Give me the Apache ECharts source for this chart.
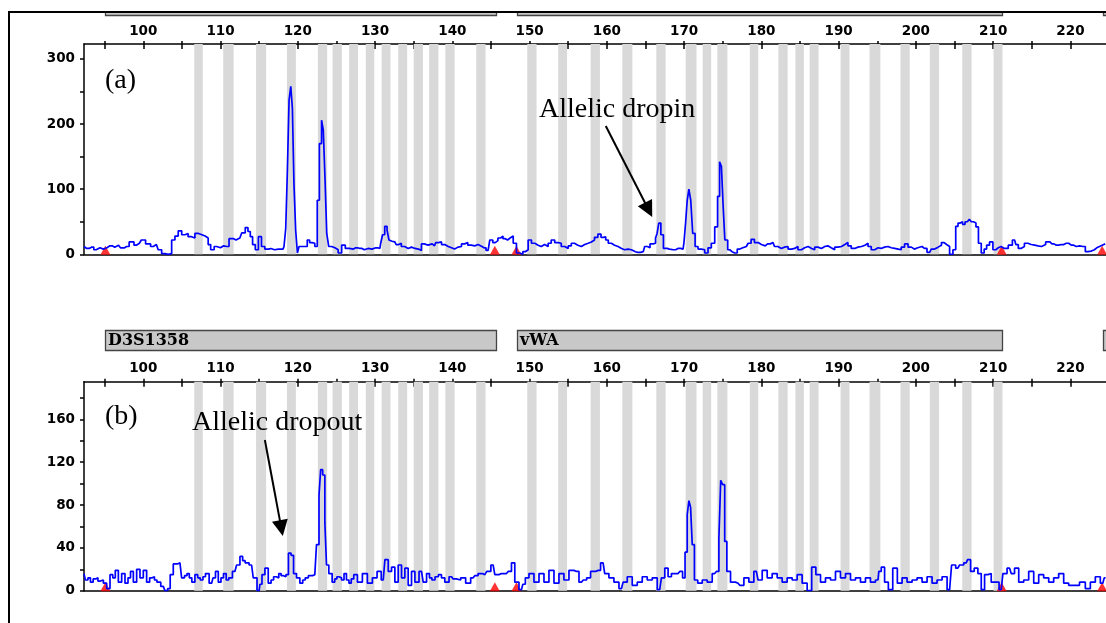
<!DOCTYPE html>
<html><head><meta charset="utf-8">
<script src="https://cdn.jsdelivr.net/npm/echarts@6/dist/echarts.min.js"></script>
<style>html,body{margin:0;padding:0;background:#fff}#c{width:1106px;height:623px}</style>
</head><body><div id="c"></div>
<script>
// ---- axis ticks / labels (base pairs and RFU) ----
const xTickValues = [95,100,105,110,115,120,125,130,135,140,145,150,155,160,165,170,175,180,185,190,195,200,205,210,215,220];
const xLabelValues = [100,110,120,130,140,150,160,170,180,190,200,210,220];
const yTicksA = [0,50,100,150,200,250,300];
const yLabelsA = [0,100,200,300];
const yTicksB = [0,20,40,60,80,100,120,140,160,180];
const yLabelsB = [0,40,80,120,160];

// ---- allele bins (bp ranges) ----
const binRanges = [[106.6,107.7],[110.35,111.7],[114.6,115.9],[118.6,119.75],[122.6,123.8],[124.5,125.7],[126.65,127.8],[128.8,129.9],[130.85,132.0],[133.0,134.15],[135.0,136.2],[137.0,138.2],[139.1,140.3],[143.1,144.3],[149.7,150.9],[153.7,154.85],[157.9,159.1],[162.0,163.3],[166.4,167.6],[170.2,171.6],[172.4,173.5],[174.3,175.6],[178.5,179.6],[182.2,183.4],[184.4,185.5],[186.25,187.4],[190.25,191.4],[194.0,195.4],[198.0,199.2],[201.8,203.0],[206.0,207.2],[210.05,211.2]];

// ---- size standard markers (bp) ----
const markerBp = [95.1,145.5,148.3,211.1,224.1];

// ---- loci ----
const lociNames = ['D3S1358','vWA',''];
const lociStart = [95.04,148.35,224.15];
const lociEnd = [145.63,211.1,232];

// ---- panel (a) trace [bp, RFU] ----
const traceA = [[92.33,12],[92.68,9],[93.3,11],[93.9,7],[94.4,10],[94.83,8],[95.3,10],[95.69,13],[96.3,11],[96.8,14],[97.3,10],[97.85,12],[98.5,19],[99.1,14],[99.5,17],[100,22],[100.6,16],[101.3,12],[101.7,15],[102.16,7],[102.6,1],[103.0,0],[103.45,1],[103.9,22],[104.3,28],[104.75,36],[105.2,30],[105.6,32],[106.0,27],[106.47,25],[106.9,32],[107.4,30],[107.8,28],[108.2,25],[108.6,15],[108.85,7],[109.5,12],[110.0,10],[110.4,13],[110.8,12],[111.4,24],[112.0,22],[112.5,25],[113.0,33],[113.4,41],[113.7,35],[114.0,27],[114.3,15],[114.7,7],[115.1,27],[115.5,12],[115.96,8],[116.5,9],[117.0,7],[117.5,8],[118.1,8],[118.33,12],[118.55,40],[118.76,130],[118.98,237],[119.2,258],[119.4,224],[119.6,109],[119.85,37],[120.05,2],[120.27,12],[120.7,12],[121.1,12],[121.35,22],[121.7,18],[122.0,17],[122.4,12],[122.64,83],[122.95,170],[123.2,206],[123.4,191],[123.64,117],[123.85,32],[124.15,12],[124.6,10],[125.0,7],[125.45,2],[125.9,14],
[126.4,9],[126.9,8],[127.5,10],[128.03,9],[128.6,7],[129.1,9],[129.6,8],[130.1,10],[130.62,9],[130.84,17],[131.1,30],[131.4,43],[131.7,37],[131.9,22],[132.2,20],[132.56,19],[132.9,15],[133.2,17],[133.6,12],[134.07,9],[134.5,11],[134.93,9],[135.4,8],[135.8,6],[136.2,16],[136.6,14],[137.1,16],[137.7,13],[138.0,18],[138.4,19],[138.8,15],[139.25,12],[139.7,10],[140.1,8],[140.5,11],[140.97,12],[141.4,16],[141.8,18],[142.2,14],[142.7,13],[143.1,15],[143.56,12],[144.1,10],[144.63,6],[145.07,22],[145.4,18],[145.7,21],[146.1,25],[146.4,28],[146.7,24],[147.0,22],[147.3,25],[147.66,28],[148.1,17],[148.5,2],[148.95,0],[149.3,4],[149.6,7],[150.03,22],[150.45,17],[150.9,14],[151.3,12],[151.7,15],[152.2,12],[152.6,17],[153.0,22],[153.5,18],[153.9,17],[154.3,12],[154.8,9],[155.2,13],[155.6,17],[156.0,14],[156.5,12],[156.9,15],[157.36,17],[157.8,19],[158.2,22],[158.6,26],[159.08,31],[159.4,26],[159.7,27],[160.0,22],[160.37,17],[160.8,14],[161.2,12],[161.7,9],[162.1,7],[162.5,8],[162.96,7],
[163.4,4],[164.0,3],[164.7,4],[165.1,12],[165.4,10],[165.77,16],[166.2,17],[166.4,25],[166.6,32],[166.84,48],[167.14,30],[167.5,9],[168.1,8],[168.6,7],[169.2,9],[169.86,8],[170.08,17],[170.3,48],[170.5,83],[170.73,100],[170.98,83],[171.24,32],[171.6,12],[172.0,8],[172.45,7],[172.88,2],[173.3,10],[173.74,17],[174.18,42],[174.48,89],[174.7,142],[174.95,135],[175.16,73],[175.38,22],[175.9,7],[176.2,4],[176.55,2],[177.2,8],[177.6,10],[178.06,12],[178.5,17],[178.84,23],[179.35,18],[179.8,15],[180.2,13],[180.8,16],[181.5,18],[181.9,12],[182.37,9],[182.8,11],[183.2,12],[183.7,8],[184.1,9],[184.5,12],[184.96,7],[185.4,10],[185.8,12],[186.3,9],[186.7,7],[187.1,11],[187.55,9],[188.0,12],[188.4,13],[188.8,10],[189.27,7],[189.7,11],[190.13,12],[190.6,15],[191.0,18],[191.4,13],[191.85,9],[192.3,11],[192.7,12],[193.2,14],[193.6,17],[194.0,12],[194.44,7],[194.9,10],[195.3,9],[195.7,11],[196.17,12],[196.6,10],[197.0,9],[197.5,8],[197.9,7],[198.3,11],[198.76,16],
[199.2,11],[199.6,8],[200.0,10],[200.48,12],[201.1,9],[201.77,3],[202.2,8],[202.64,11],[203.1,14],[203.5,18],[203.8,15],[204.14,12],[204.58,0],[205.0,7],[205.3,43],[205.6,48],[205.87,50],[206.2,46],[206.52,50],[206.8,52],[207.03,54],[207.3,50],[207.6,48],[207.94,42],[208.24,17],[208.67,2],[209.0,8],[209.3,14],[209.75,19],[210.18,7],[210.5,10],[210.83,12],[211.2,9],[211.7,9],[212.2,14],[212.77,22],[213.1,15],[213.4,9],[213.8,12],[214.28,17],[214.7,15],[215.14,14],[215.6,13],[216.0,12],[216.5,15],[217.08,19],[217.6,16],[218.16,14],[218.8,15],[219.46,17],[220.1,14],[220.75,12],[221.2,13],[221.6,12],[222.25,4],[222.7,5],[223.1,7],[223.4,10],[223.76,12],[224.1,14],[224.5,16]];

// ---- panel (b) trace [bp, RFU] ----
const traceB = [[92.33,16],[92.68,10],[93.0,12],[93.33,8],[93.7,11],[93.97,12],[94.3,9],[94.62,10],[95.05,7],[95.48,2],[95.91,15],[96.2,12],[96.56,19],[96.99,8],[97.42,16],[97.85,7],[98.2,12],[98.5,18],[98.93,8],[99.36,20],[99.79,12],[100.22,19],[100.65,8],[101.0,12],[101.3,13],[101.6,10],[101.94,8],[102.59,4],[103.02,0],[103.3,2],[103.67,15],[104.1,25],[104.75,26],[105.18,12],[105.5,14],[105.82,16],[106.1,12],[106.47,8],[106.9,15],[107.2,12],[107.55,10],[107.9,13],[108.2,16],[108.85,7],[109.2,12],[109.5,18],[109.92,8],[110.2,12],[110.57,16],[110.9,10],[111.22,12],[111.86,18],[112.3,24],[112.73,32],[113.0,28],[113.37,26],[114.02,24],[114.45,12],[115.0,0],[115.2,6],[115.53,15],[115.96,21],[116.39,7],[116.7,10],[117.04,13],[117.4,12],[117.68,16],[118.0,14],[118.33,13],[118.6,15],[118.98,35],[119.28,33],[119.62,16],[120.05,12],[120.48,7],[120.8,10],[121.13,12],[121.6,14],[122.2,15],[122.64,43],[122.85,89],[123.07,113],[123.37,108],[123.63,64],[123.8,24],[124.23,16],[124.66,8],[124.9,11],[125.22,13],[125.45,12],[125.87,10],
[126.1,16],[126.5,10],[126.74,7],[127.1,11],[127.39,15],[128.04,8],[128.68,16],[129.33,7],[129.98,12],[130.54,18],[131.06,10],[131.49,29],[131.92,18],[132.35,22],[132.78,8],[133.21,24],[133.64,12],[134.07,21],[134.5,5],[134.94,18],[135.37,8],[136.01,18],[136.45,8],[136.88,16],[137.2,12],[137.52,10],[138.0,13],[138.39,15],[138.8,12],[139.25,8],[139.9,13],[140.3,11],[140.76,10],[141.4,12],[142.05,7],[142.7,12],[143.1,14],[143.56,16],[144.21,15],[144.7,18],[145.28,24],[145.72,15],[146.36,16],[147.01,16],[147.44,18],[147.87,26],[148.3,8],[148.95,1],[149.3,6],[149.6,12],[150.24,16],[150.89,8],[151.54,16],[152.18,8],[152.83,19],[153.48,7],[154.12,16],[154.77,10],[155.42,19],[156.07,18],[156.71,8],[157.2,10],[157.57,12],[158.22,18],[158.87,19],[159.51,26],[159.94,16],[160.59,12],[161.24,8],[161.89,2],
[162.32,8],[162.96,13],[163.61,5],[164.26,8],[164.9,13],[165.55,10],[166.2,12],[166.84,1],[167.28,12],[167.71,21],[168.14,13],[168.57,16],[169.22,16],[169.65,18],[169.95,12],[170.29,36],[170.51,71],[170.73,84],[170.94,78],[171.16,43],[171.5,10],[172.02,7],[172.67,10],[173.31,8],[173.96,16],[174.39,18],[174.61,49],[174.86,103],[175.12,99],[175.38,46],[175.68,18],[176.33,8],[176.98,7],[177.41,5],[178.06,12],[178.7,8],[179.35,18],[179.78,10],[180.43,19],[181.07,12],[181.72,16],[182.37,12],[183.01,8],[183.66,12],[184.31,10],[184.95,15],[185.6,7],[186.25,0],[186.77,22],[187.33,15],[187.97,8],[188.62,12],[189.27,10],[189.91,18],[190.56,12],[191.21,16],[191.85,10],[192.5,12],[193.15,8],[193.79,12],[194.44,8],[195.09,10],
[195.3,18],[195.73,22],[196.16,8],[196.7,1],[197.3,21],[197.89,7],[198.53,12],[199.18,8],[199.83,10],[200.47,12],[201.12,8],[201.77,13],[202.41,7],[203.06,10],[203.71,13],[204.36,1],[204.87,24],[205.43,21],[205.86,24],[206.51,26],[206.86,29],[207.29,18],[207.8,21],[208.24,16],[208.67,1],[209.1,15],[209.53,16],[209.96,8],[210.48,8],[211.04,1],[211.47,16],[212.12,21],[212.55,16],[212.98,21],[213.63,8],[214.27,10],[214.92,18],[215.57,7],[216.21,15],[216.86,12],[217.51,8],[218.15,12],[218.8,16],[219.45,7],[220.09,5],[220.74,5],[221.6,8],[222.25,2],[222.9,8],[223.54,13],[224.19,7],[224.54,12]];

// ---- annotation arrows in data units [bp, RFU] ----
const arrowA = [[159.86,197],[165.4,68.4]];
const arrowB = [[115.74,140.7],[117.87,58.4]];

const chart = echarts.init(document.getElementById('c'), null, {renderer:'canvas'});
const X_MIN = 92.33, X_MAX = 224.6;
const labelFont = {color:'#000', fontWeight:'bold', fontSize:13.5, fontFamily:'DejaVu Sans'};

function topX(grid){
  return {type:'value', gridIndex:grid, position:'top', min:X_MIN, max:X_MAX,
    axisLine:{show:true, onZero:false, lineStyle:{color:'#000', width:1.5}},
    axisTick:{show:true, inside:true, length:5, customValues:xTickValues, lineStyle:{color:'#000', width:1.5}},
    axisLabel:Object.assign({show:true, margin:6, customValues:xLabelValues}, labelFont),
    splitLine:{show:false}};
}
function topXOut(grid){
  return {type:'value', gridIndex:grid, position:'top', min:X_MIN, max:X_MAX,
    axisLine:{show:false, onZero:false},
    axisTick:{show:true, inside:false, length:3, customValues:xTickValues, lineStyle:{color:'#000', width:1.5}},
    axisLabel:{show:false}, splitLine:{show:false}};
}
function botX(grid){
  return {type:'value', gridIndex:grid, position:'bottom', min:X_MIN, max:X_MAX,
    axisLine:{show:true, onZero:false, lineStyle:{color:'#000', width:1.5}},
    axisTick:{show:false}, axisLabel:{show:false}, splitLine:{show:false}};
}
function yAx(grid, max, ticks, labels){
  return {type:'value', gridIndex:grid, min:0, max:max,
    axisLine:{show:true, onZero:false, lineStyle:{color:'#000', width:1.5}},
    axisTick:{show:true, inside:false, length:4, customValues:ticks, lineStyle:{color:'#000', width:1.5}},
    axisLabel:Object.assign({show:true, margin:9, customValues:labels}, labelFont),
    splitLine:{show:false}};
}
function binsSeries(xi, yi){
  return {type:'line', xAxisIndex:xi, yAxisIndex:yi, data:[], z:1, silent:true,
    markArea:{silent:true, itemStyle:{color:'#d9d9d9'}, data:binRanges.map(r=>[{xAxis:r[0]},{xAxis:r[1]}])}};
}
function markerSeries(xi, yi){
  return {type:'scatter', xAxisIndex:xi, yAxisIndex:yi, data:markerBp.map(b=>[b,0]), z:2, silent:true,
    symbol:'triangle', symbolSize:[10,9], symbolOffset:[0,-4], itemStyle:{color:'#ff0000'}};
}
function traceSeries(xi, yi, data, arrow){
  return {type:'line', xAxisIndex:xi, yAxisIndex:yi, data:data, z:3, step:'middle', showSymbol:false, silent:true,
    lineStyle:{color:'#0000ff', width:1.7},
    markLine:{silent:true, symbol:['none','triangle'], symbolSize:15, label:{show:false},
      itemStyle:{color:'#000'},
      lineStyle:{color:'#000', width:2, type:'solid'},
      emphasis:{disabled:true},
      data:[[{coord:arrow[0], symbol:'none'},{coord:arrow[1], symbol:'triangle', symbolSize:16}]]}};
}

chart.setOption({
  animation:false,
  backgroundColor:'#fff',
  grid:[{left:84, top:44, width:1023, height:210.3},{left:84, top:381.7, width:1023, height:209}],
  xAxis:[topX(0), botX(0), topX(1), botX(1), topXOut(0), topXOut(1)],
  yAxis:[yAx(0, 323, yTicksA, yLabelsA), yAx(1, 195.1, yTicksB, yLabelsB)],
  series:[
    binsSeries(0,0), markerSeries(0,0), traceSeries(0,0,traceA,arrowA),
    binsSeries(2,1), markerSeries(2,1), traceSeries(2,1,traceB,arrowB)
  ]
});

// locus bars placed with the bp scale
const gfx = [];
function locusBars(axisIdx, y, h, withText){
  for (let i=0;i<lociNames.length;i++){
    const x0 = chart.convertToPixel({xAxisIndex:axisIdx}, lociStart[i]);
    const x1 = chart.convertToPixel({xAxisIndex:axisIdx}, lociEnd[i]);
    gfx.push({type:'rect', shape:{x:Math.round(x0)+0.5, y:y, width:Math.round(x1-x0), height:h},
      style:{fill:'#c8c8c8', stroke:'#444', lineWidth:1.3}, z:0});
    if (withText && lociNames[i]) gfx.push({type:'text', x:Math.round(x0)+3, y:y+h/2+0.5,
      style:{text:lociNames[i], font:'bold 16px "DejaVu Serif"', fill:'#000', verticalAlign:'middle', align:'left'}, z:1});
  }
}
locusBars(0, 1.5, 14, false);
locusBars(2, 330.5, 20, true);
// frame above top bars
gfx.push({type:'rect', shape:{x:0, y:0, width:1106, height:11}, style:{fill:'#fff'}, z:2});
gfx.push({type:'polyline', shape:{points:[[1110,12],[9,12],[9,630]]}, style:{stroke:'#000', lineWidth:2, fill:null}, z:3});
// annotation texts
const annFont = '28px "Liberation Serif"';
gfx.push({type:'text', x:105, y:81, style:{text:'(a)', font:annFont, fill:'#000', verticalAlign:'middle'}, z:5});
gfx.push({type:'text', x:539, y:110, style:{text:'Allelic dropin', font:annFont, fill:'#000', verticalAlign:'middle'}, z:5});
gfx.push({type:'text', x:105, y:417, style:{text:'(b)', font:annFont, fill:'#000', verticalAlign:'middle'}, z:5});
gfx.push({type:'text', x:192, y:423, style:{text:'Allelic dropout', font:annFont, fill:'#000', verticalAlign:'middle'}, z:5});
chart.setOption({graphic:{elements:gfx}});
</script>
</body></html>
